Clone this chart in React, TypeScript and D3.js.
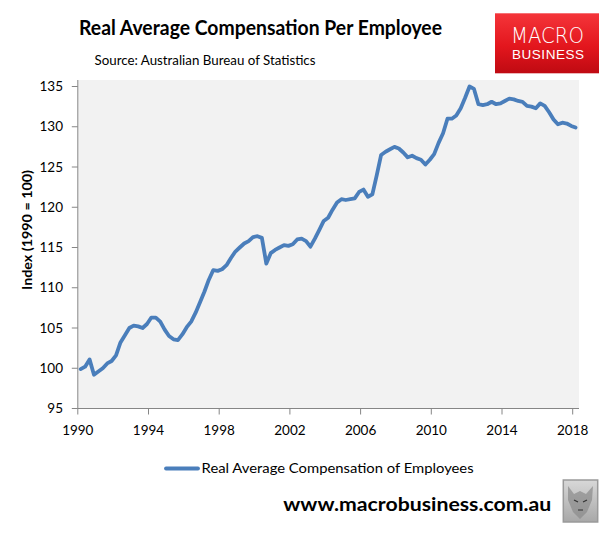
import React from 'react';
import * as d3 from 'd3';

// quarterly index, Mar-1990 .. Mar-2018 (1990 = 100)
const startQuarter = '1990-03';
const compensation = [
    99.9, 100.2, 101.1, 99.2,
    99.6, 100.0, 100.6, 100.9,
    101.6, 103.2, 104.1, 105.0,
    105.3, 105.2, 105.0, 105.5,
    106.3, 106.3, 105.8, 104.8,
    104.0, 103.6, 103.5, 104.2,
    105.1, 105.8, 106.9, 108.2,
    109.5, 111.0, 112.2, 112.1,
    112.3, 112.8, 113.7, 114.5,
    115.0, 115.5, 115.8, 116.3,
    116.4, 116.2, 113.0, 114.3,
    114.7, 115.0, 115.3, 115.2,
    115.4, 116.0, 116.1, 115.8,
    115.1, 116.1, 117.2, 118.3,
    118.7, 119.7, 120.6, 121.0,
    120.9, 121.0, 121.1, 121.9,
    122.2, 121.3, 121.6, 124.0,
    126.5, 126.9, 127.2, 127.5,
    127.3, 126.8, 126.2, 126.4,
    126.1, 125.9, 125.3, 125.9,
    126.6, 128.0, 129.2, 131.0,
    131.0, 131.4, 132.3, 133.6,
    135.0, 134.7, 132.8, 132.7,
    132.8, 133.1, 132.8, 132.9,
    133.2, 133.5, 133.4, 133.2,
    133.1, 132.6, 132.5, 132.3,
    132.9, 132.6, 131.8, 130.9,
    130.3, 130.5, 130.4, 130.1,
    129.9,
];
const xTickYears = [1990, 1994, 1998, 2002, 2006, 2010, 2014, 2018];
const yTicks = [95, 100, 105, 110, 115, 120, 125, 130, 135];

const seriesName = 'Real Average Compensation of Employees';
const title = 'Real Average Compensation Per Employee';
const source = 'Source: Australian Bureau of Statistics';

const W = 616;
const H = 537;
const font = 'Lato, "Open Sans", sans-serif';
const axisGrey = '#868686';
const lineBlue = '#4a7ebb';

const plot = { left: 77.8, right: 579, top: 80, bottom: 408.5 };

const App: React.FC = () => {
    const first = d3.timeParse('%Y-%m')(startQuarter) as Date;
    const data = compensation.map((v, i) => ({ date: d3.timeMonth.offset(first, i * 3), value: v }));

    const x = d3.scaleTime()
        .domain([new Date(1990, 0, 1), new Date(2018, 0, 1)])
        .range([plot.left, 572.7]);
    const y = d3.scaleLinear().domain([95, 135]).range([plot.bottom, 86.5]);

    const line = d3.line<{ date: Date; value: number }>()
        .x((d) => x(d.date))
        .y((d) => y(d.value));

    return (
        <svg width={W} height={H} style={{ position: 'absolute', left: 0, top: 0, background: '#fff' }} fontFamily={font}>
            <defs>
                <linearGradient id="logoRed" x1="0" y1="0" x2="0" y2="1">
                    <stop offset="0" stopColor="#f4353a" />
                    <stop offset="0.55" stopColor="#e3161d" />
                    <stop offset="1" stopColor="#bf0a12" />
                </linearGradient>
                <linearGradient id="wolfGrey" x1="0" y1="0" x2="0" y2="1">
                    <stop offset="0" stopColor="#d8d8d8" />
                    <stop offset="1" stopColor="#a8a8a8" />
                </linearGradient>
            </defs>

            <text x={79} y={35} fontSize={20} fontWeight="bold" fill="#000" textLength={363} lengthAdjust="spacingAndGlyphs">{title}</text>
            <text x={94.5} y={65} fontSize={13} fill="#000" textLength={221} lengthAdjust="spacingAndGlyphs">{source}</text>

            {/* logo */}
            <rect x={495} y={13.3} width={104} height={60} fill="url(#logoRed)" />
            <text x={547.5} y={42.7} fontSize={22} fill="#fff" textAnchor="middle" textLength={73} lengthAdjust="spacingAndGlyphs" fontFamily='"DejaVu Sans", sans-serif' fontWeight={300}>MACRO</text>
            <text x={548} y={59.3} fontSize={13.5} fill="#fff" textAnchor="middle" textLength={72} lengthAdjust="spacing" fontFamily='"Liberation Sans", sans-serif'>BUSINESS</text>

            {/* plot area */}
            <rect x={plot.left} y={plot.top} width={plot.right - plot.left} height={plot.bottom - plot.top} fill="#f2f2f2" />

            {/* y axis */}
            <line x1={plot.left} x2={plot.left} y1={plot.top} y2={plot.bottom} stroke={axisGrey} />
            {yTicks.map((t) => (
                <g key={t}>
                    <line x1={plot.left - 6} x2={plot.left} y1={y(t)} y2={y(t)} stroke={axisGrey} />
                    <text x={63} y={y(t)} dy="0.35em" fontSize={13.5} textAnchor="end" fill="#000">{t}</text>
                </g>
            ))}
            <text transform={`translate(32,230) rotate(-90)`} fontSize={14} fontWeight="bold" textAnchor="middle" fill="#000" textLength={120} lengthAdjust="spacingAndGlyphs">Index (1990 = 100)</text>

            {/* x axis */}
            <line x1={plot.left} x2={plot.right} y1={plot.bottom} y2={plot.bottom} stroke={axisGrey} />
            {xTickYears.map((yr) => {
                const px = x(new Date(yr, 0, 1));
                return (
                    <g key={yr}>
                        <line x1={px} x2={px} y1={plot.bottom} y2={plot.bottom + 6} stroke={axisGrey} />
                        <text x={px} y={435} fontSize={13.5} textAnchor="middle" fill="#000">{yr}</text>
                    </g>
                );
            })}

            <path d={line(data) || ''} fill="none" stroke={lineBlue} strokeWidth={3.8} strokeLinejoin="round" strokeLinecap="round" />

            {/* legend */}
            <line x1={166} x2={198} y1={468.5} y2={468.5} stroke={lineBlue} strokeWidth={3.8} strokeLinecap="round" />
            <text x={201.6} y={473} fontSize={14} fill="#000" textLength={272} lengthAdjust="spacingAndGlyphs">{seriesName}</text>

            {/* footer */}
            <text x={283.3} y={511} fontSize={19} fontWeight="bold" fill="#000" textLength={268} lengthAdjust="spacingAndGlyphs">www.macrobusiness.com.au</text>
            <rect x={563.3} y={480} width={34.4} height={42} fill="url(#wolfGrey)" stroke="#9a9a9a" strokeWidth={1.5} />
            <path d="M568,486 L574,494 L580,491 L586,494 L593,486 L592,500 L587,512 L580,519 L573,512 L568,500 Z" fill="#8a8a8a" opacity={0.7} />
            <path d="M574,500 L578,502 M583,502 L587,500 M578,510 L583,510" stroke="#333" strokeWidth={1.2} fill="none" />
        </svg>
    );
};

export default App;
